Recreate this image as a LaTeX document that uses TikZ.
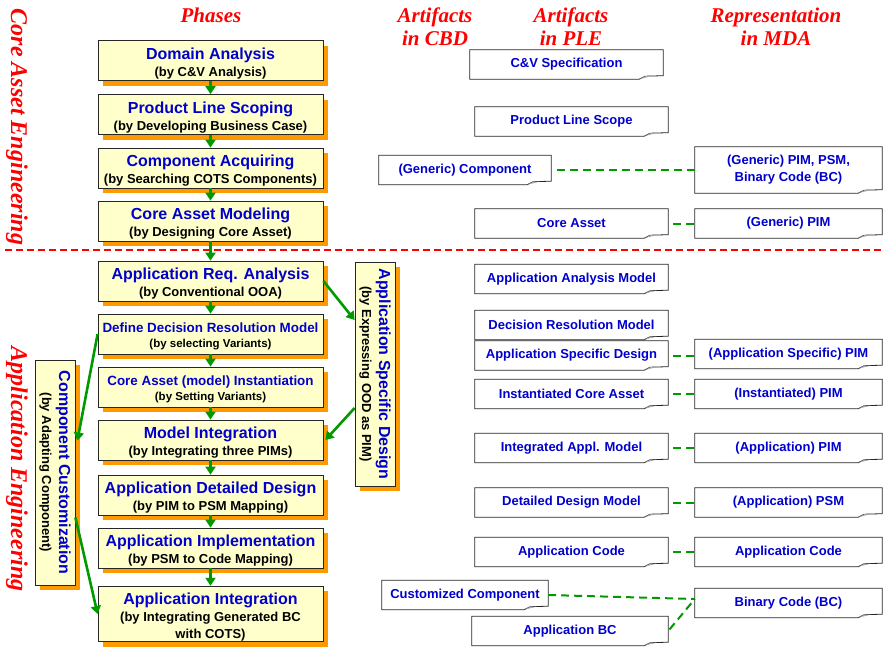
\documentclass[tikz,border=0pt]{standalone}
\usepackage{fontspec}
\setmainfont{Liberation Serif}
\setsansfont{Liberation Sans}
\usetikzlibrary{arrows.meta,shadows}

\definecolor{phaseyellow}{RGB}{255,255,204}
\definecolor{shadeorange}{RGB}{255,153,0}
\definecolor{textblue}{RGB}{0,0,204}
\definecolor{flowgreen}{RGB}{0,153,0}
\definecolor{headred}{RGB}{255,0,0}

% phase titles (big / squeezed / standing)
\newcommand{\ttl}[1]{{\color{textblue}\fontsize{16}{18}\selectfont\rule{0pt}{17pt}#1}}
\newcommand{\ttls}[1]{{\color{textblue}\fontsize{13.4}{16}\selectfont\rule{0pt}{15pt}#1}}
\newcommand{\vttl}[1]{{\color{textblue}\fontsize{16}{18}\selectfont #1}}

\tikzset{
  phase/.style={draw=black!85, fill=phaseyellow, line width=0.8pt,
    minimum width=225pt, minimum height=40pt, inner sep=1pt, align=center,
    drop shadow={shadow xshift=5pt, shadow yshift=-5pt, fill=shadeorange, opacity=1},
    font=\sffamily\bfseries\fontsize{13}{17}\selectfont},
  phase small/.style={font=\sffamily\bfseries\fontsize{11.5}{15}\selectfont},
  vphase/.style={phase, minimum width=40pt, minimum height=225pt},
  vlabel/.style={rotate=-90, align=center, inner sep=0pt,
    font=\sffamily\bfseries\fontsize{13}{17}\selectfont},
  artifact/.style={minimum height=29pt, inner sep=1pt, align=center, text=textblue,
    font=\sffamily\bfseries\fontsize{13}{17}\selectfont},
  heading/.style={text=headred, align=center, inner sep=0pt,
    font=\rmfamily\bfseries\itshape\fontsize{21}{23}\selectfont},
  sidehead/.style={text=headred, rotate=-90, inner sep=0pt,
    font=\rmfamily\bfseries\itshape\fontsize{24}{26}\selectfont},
  flow/.style={draw=flowgreen, line width=2.6pt, -{Triangle[width=10pt,length=8pt]}},
  link/.style={draw=flowgreen, line width=2pt, dash pattern=on 8pt off 5pt},
  artline/.style={draw=black!85, line width=0.8pt},
}

\begin{document}
\begin{tikzpicture}[x=1pt, y=-1pt]
  \useasboundingbox (0,0) rectangle (884,648);

  % column headings
  \node[heading] (hphase) at (211,15) {Phases};
  \node[heading] (hcbd) at (435,27) {Artifacts\\in CBD};
  \node[heading] (hple) at (571,27) {Artifacts\\in PLE};
  \node[heading] (hmda) at (776,27) {Representation\\in MDA};

  \node[sidehead] (hcore) at (17,127) {Core Asset Engineering};
  \node[sidehead] (happl) at (17,469) {Application Engineering};

  \draw[headred, line width=1.2pt, dash pattern=on 7pt off 4pt] (5,250) -- (884,250);

  % phases
  \node[phase] (da) at (210.5,60.5) {\ttl{Domain Analysis}\\(by C\&V Analysis)};
  \node[phase] (pls) at (210.5,114.5) {\ttl{Product Line Scoping}\\(by Developing Business Case)};
  \node[phase] (ca) at (210.5,168) {\ttl{Component Acquiring}\\(by Searching COTS Components)};
  \node[phase] (cam) at (210.5,221) {\ttl{Core Asset Modeling}\\(by Designing Core Asset)};
  \node[phase] (ara) at (210.5,281) {\ttl{Application Req. Analysis}\\(by Conventional OOA)};
  \node[phase, phase small] (ddrm) at (210.5,334) {\ttls{Define Decision Resolution Model}\\(by selecting Variants)};
  \node[phase, phase small] (cai) at (210.5,387) {\ttls{Core Asset (model) Instantiation}\\(by Setting Variants)};
  \node[phase] (mi) at (210.5,440) {\ttl{Model Integration}\\(by Integrating three PIMs)};
  \node[phase] (add) at (210.5,495) {\ttl{Application Detailed Design}\\(by PIM to PSM Mapping)};
  \node[phase] (aimp) at (210.5,548) {\ttl{Application Implementation}\\(by PSM to Code Mapping)};
  \node[phase, minimum height=54pt] (aint) at (210.5,614) {\ttl{Application Integration}\\(by Integrating Generated BC\\with COTS)};

  \node[vphase] (cc) at (55,472.5) {};
  \node[vlabel] (cclabel) at (cc) {\vttl{Component Customization}\\(by Adapting Component)};
  \node[vphase, minimum height=224pt] (asd) at (375,374) {};
  \node[vlabel] (asdlabel) at (asd) {\vttl{Application Specific Design}\\(by Expressing OOD as PIM)};

  \foreach \a/\b in {da/pls,pls/ca,ca/cam,cam/ara,ara/ddrm,ddrm/cai,cai/mi,mi/add,add/aimp,aimp/aint}
    \draw[flow] (\a.south) -- (\b.north);

  \draw[flow] (ara.east) -- ([yshift=54pt]asd.west);
  \draw[flow] ([yshift=-34pt]asd.west) -- ([xshift=2pt]mi.east);
  \draw[flow] (ddrm.west) -- ([xshift=2pt,yshift=32pt]cc.east);
  \draw[flow] ([yshift=-45pt]cc.east) -- (aint.west);

  % artifacts
  \node[artifact, minimum width=193pt] (cvs) at (566.5,64.5) {C\&V Specification};
  \node[artifact, minimum width=193pt] (plscope) at (571.5,121.5) {Product Line Scope};
  \node[artifact, minimum width=172pt] (gcomp) at (465,170) {(Generic) Component};
  \node[artifact, minimum width=187pt, minimum height=46pt] (gpimbc) at (788.5,170) {(Generic) PIM, PSM,\\Binary Code (BC)};
  \node[artifact, minimum width=193pt] (core) at (571.5,223.5) {Core Asset};
  \node[artifact, minimum width=187pt] (gpim) at (788.5,223.5) {(Generic) PIM};
  \node[artifact, minimum width=193pt] (aam) at (571.5,279) {Application Analysis Model};
  \node[artifact, minimum width=193pt] (drm) at (571.5,325) {Decision Resolution Model};
  \node[artifact, minimum width=193pt] (asdart) at (571.5,355.5) {Application Specific Design};
  \node[artifact, minimum width=187pt] (aspim) at (788.5,354) {(Application Specific) PIM};
  \node[artifact, minimum width=193pt] (ica) at (571.5,394) {Instantiated Core Asset};
  \node[artifact, minimum width=187pt] (ipim) at (788.5,394) {(Instantiated) PIM};
  \node[artifact, minimum width=193pt] (iam) at (571.5,448) {Integrated Appl. Model};
  \node[artifact, minimum width=187pt] (apim) at (788.5,448) {(Application) PIM};
  \node[artifact, minimum width=193pt] (ddm) at (571.5,502.5) {Detailed Design Model};
  \node[artifact, minimum width=187pt] (apsm) at (788.5,502.5) {(Application) PSM};
  \node[artifact, minimum width=193pt] (acode) at (571.5,552) {Application Code};
  \node[artifact, minimum width=187pt] (acode2) at (788.5,552) {Application Code};
  \node[artifact, minimum width=166pt] (custc) at (465,595) {Customized Component};
  \node[artifact, minimum width=187pt] (bc) at (788.5,603) {Binary Code (BC)};
  \node[artifact, minimum width=196pt] (appbc) at (570,631) {Application BC};

  % document outline with curled corner
  \foreach \n in {cvs,plscope,gcomp,gpimbc,core,gpim,aam,drm,asdart,aspim,ica,ipim,iam,apim,ddm,apsm,acode,acode2,custc,bc,appbc}{
    \draw[artline] ([xshift=-24pt]\n.south east) -- (\n.south west) -- (\n.north west)
      -- (\n.north east) -- ([yshift=3.5pt]\n.south east) -- ([xshift=-18pt,yshift=3pt]\n.south east)
      -- ([xshift=-24pt]\n.south east);
    \fill[black!35] ([xshift=-24pt]\n.south east) -- ([xshift=-18pt,yshift=3pt]\n.south east)
      -- ([xshift=-11pt,yshift=3.2pt]\n.south east) -- cycle;
  }

  \draw[link, shorten <=6pt] (gcomp.east) -- (gpimbc.west);
  \draw[link, shorten <=5pt] (core.east) -- (gpim.west);
  \foreach \a/\b in {asdart/aspim,ica/ipim,iam/apim,ddm/apsm,acode/acode2}
    \draw[link, shorten <=5pt] (\a.east) -- (\a.east -| \b.west);
  \draw[link] (custc.east) -- ([yshift=4pt]bc.west);
  \draw[link, shorten <=2pt] (appbc.east) -- ([yshift=4pt]bc.west);
\end{tikzpicture}
\end{document}
